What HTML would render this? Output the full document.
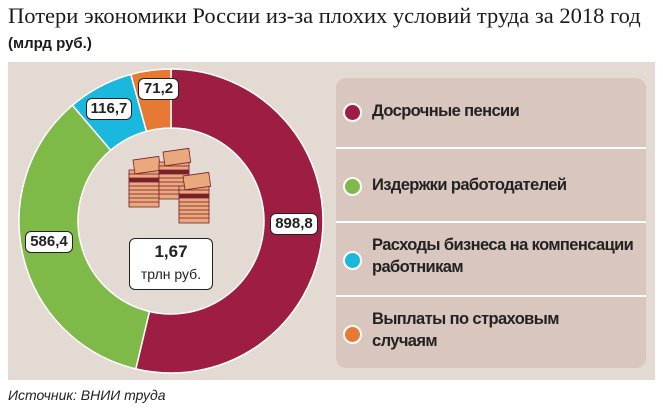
<!DOCTYPE html>
<html><head><meta charset="utf-8"><style>
body{margin:0;width:663px;height:409px;background:#fff;position:relative;overflow:hidden;font-family:"Liberation Sans",sans-serif}
.t{position:absolute;left:8px;top:3px;font-family:"Liberation Serif",serif;font-size:22.5px;color:#1a1a1a;white-space:nowrap}
.s{position:absolute;left:8px;top:35px;font-size:15px;font-weight:bold;color:#1a1a1a}
.src{position:absolute;left:8px;top:387px;font-size:14px;font-style:italic;color:#222}
.panel{position:absolute;left:8px;top:62px;width:647px;height:318px;background:#e4dad4}
.leg{position:absolute;left:336px;top:78px;width:310px;height:290px;background:#d8c6bf;border-radius:10px;overflow:hidden}
.row{position:absolute;left:0;width:310px;border-top:2px solid #fff}
.dot{position:absolute;left:7px;width:15px;height:15px;border-radius:50%;border:2px solid #fff}
.lt{position:absolute;left:36px;font-size:16.5px;font-weight:bold;color:#222;line-height:22px;white-space:nowrap;letter-spacing:-0.6px}
.lab{position:absolute;background:#fff;border:1.5px solid #222;border-radius:6px;font-weight:bold;font-size:15px;text-align:center;line-height:20px;color:#222}
</style></head><body>
<div class="t">Потери экономики России из-за плохих условий труда за 2018 год</div>
<div class="s">(млрд руб.)</div>
<div class="panel"></div>
<svg style="position:absolute;left:0;top:0" width="663" height="409">
<g id="d"></g>
</svg>
<script>
var cx=171,cy=221,R=152,r=93;
var vals=[[898.8,"#9e1d43"],[586.4,"#7fba48"],[116.7,"#1ab8dc"],[71.2,"#e67a35"]];
var tot=0;vals.forEach(v=>tot+=v[0]);
var a=0,h="";
function pt(rad,ang){return [cx+rad*Math.sin(ang),cy-rad*Math.cos(ang)];}
vals.forEach(v=>{var b=a+v[0]/tot*2*Math.PI;var L=(b-a)>Math.PI?1:0;
var p1=pt(R,a),p2=pt(R,b),p3=pt(r,b),p4=pt(r,a);
h+='<path d="M'+p1+' A'+R+','+R+' 0 '+L+' 1 '+p2+' L'+p3+' A'+r+','+r+' 0 '+L+' 0 '+p4+' Z" fill="'+v[1]+'" stroke="#fff" stroke-width="1.5"/>';a=b;});
h+='<circle cx="'+cx+'" cy="'+cy+'" r="'+(r-1)+'" fill="#e4dad4"/>';
[[133,160],[163,152],[183,176]].forEach(s=>{for(var i=0;i<9;i++){h+='<rect x="'+(s[0]-4)+'" y="'+(s[1]+10+i*4)+'" width="30" height="5" fill="#e9a97c" stroke="#7a1f2e" stroke-width="0.8"/>';}
h+='<rect x="'+s[0]+'" y="'+s[1]+'" width="26" height="14" fill="#e9a97c" stroke="#7a1f2e" stroke-width="0.8" transform="rotate(-8 '+s[0]+' '+s[1]+')"/>';
h+='<rect x="'+(s[0]-4)+'" y="'+(s[1]+18)+'" width="30" height="4" fill="#7a1f2e"/>';});
document.getElementById('d').innerHTML=h;
</script>
<div class="lab" style="left:138px;top:78px;width:39px">71,2</div>
<div class="lab" style="left:86px;top:98px;width:44px">116,7</div>
<div class="lab" style="left:270px;top:213px;width:46px">898,8</div>
<div class="lab" style="left:25px;top:231px;width:46px">586,4</div>
<div class="lab" style="left:129px;top:238px;width:82px;height:48px;font-size:17px;line-height:22px;padding-top:2px">1,67<br><span style="font-weight:normal;font-size:14px">трлн руб.</span></div>
<div class="leg">
<div class="row" style="top:-2px;height:70px"><div class="dot" style="top:25px;background:#9e1d43"></div><div class="lt" style="top:22px">Досрочные пенсии</div></div>
<div class="row" style="top:69px;height:72px"><div class="dot" style="top:28px;background:#7fba48"></div><div class="lt" style="top:25px">Издержки работодателей</div></div>
<div class="row" style="top:143px;height:72px"><div class="dot" style="top:28px;background:#1ab8dc"></div><div class="lt" style="top:11px">Расходы бизнеса на компенсации<br>работникам</div></div>
<div class="row" style="top:217px;height:74px"><div class="dot" style="top:28px;background:#e67a35"></div><div class="lt" style="top:11px">Выплаты по страховым<br>случаям</div></div>
</div>
<div class="src">Источник: ВНИИ труда</div>
</body></html>
